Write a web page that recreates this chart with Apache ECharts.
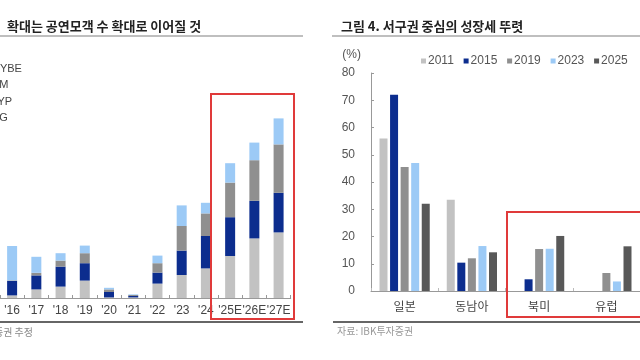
<!DOCTYPE html>
<html><head><meta charset="utf-8">
<script src="https://cdn.jsdelivr.net/npm/echarts@6/dist/echarts.min.js"></script>
<style>html,body{margin:0;padding:0;background:#fff;}#c{width:640px;height:360px;}</style>
</head><body><div id="c"></div>
<script>
// Left chart: stacked concert attendance (units arbitrary, cut-off axis)
const leftYears = ["'16","'17","'18","'19","'20","'21","'22","'23","'24","'25E","'26E","'27E"];
const hybe = [13, 43, 57, 87, 3, 3, 72, 115, 148, 210, 298, 328];
const sm   = [72, 70, 100, 87, 27, 7, 55, 122, 162, 194, 188, 198];
const jyp  = [3, 13, 30, 50, 13, 5, 47, 123, 113, 173, 203, 242];
const yg   = [172, 80, 37, 38, 8, 3, 38, 103, 53, 97, 88, 130];

// Right chart: regional share (%)
const regions = ['일본', '동남아', '북미', '유럽'];
const y2011 = [56, 33.5, 0, 0];
const y2015 = [72, 10.4, 4.3, 0];
const y2019 = [45.5, 12, 15.4, 6.6];
const y2023 = [47, 16.5, 15.5, 3.5];
const y2025 = [32, 14.2, 20.2, 16.4];
const rightTicks = [0, 10, 20, 30, 40, 50, 60, 70, 80];

const FONT = 'Liberation Sans, Arial, Noto Sans CJK KR, sans-serif';
const KFONT = 'Noto Sans CJK KR, Liberation Sans, sans-serif';
const cLG = '#c2c2c2', cNavy = '#0c2d8e', cGray = '#8f8f8f', cLB = '#9ccaf6', cDark = '#585858';

const chart = echarts.init(document.getElementById('c'), null, {renderer: 'canvas'});

function leftBar(name, data, color) {
  return {name, type: 'bar', stack: 'L', xAxisIndex: 0, yAxisIndex: 0, data, barWidth: 10,
    itemStyle: {color}, emphasis: {disabled: true}};
}
function rightBar(name, data, color) {
  return {name, type: 'bar', xAxisIndex: 1, yAxisIndex: 1, data, barWidth: 8, barGap: '32%',
    itemStyle: {color}, emphasis: {disabled: true}};
}

chart.setOption({
  backgroundColor: '#fff',
  animation: false,
  title: [
    {text: '확대는 공연모객 수 확대로 이어질 것', left: 2, top: 15,
     textStyle: {fontFamily: KFONT, fontSize: 13, fontWeight: 'bold', color: '#222'}},
    {text: '그림 4. 서구권 중심의 성장세 뚜렷', left: 336, top: 15,
     textStyle: {fontFamily: KFONT, fontSize: 13, fontWeight: 'bold', color: '#222'}}
  ],
  legend: [
    {data: ['HYBE', 'SM', 'JYP', 'YG'], orient: 'vertical', left: -26, top: 58,
     itemWidth: 8, itemHeight: 8, itemGap: 5.5, icon: 'rect',
     textStyle: {fontFamily: FONT, fontSize: 11, color: '#444'}},
    {data: ['2011', '2015', '2019', '2023', '2025'], orient: 'horizontal', left: 416, top: 50,
     itemWidth: 5, itemHeight: 5, itemGap: 9.8, icon: 'rect',
     textStyle: {fontFamily: FONT, fontSize: 12, color: '#555', padding: [0, 0, 0, -3]}}
  ],
  grid: [
    {left: -5, width: 295.7, top: 58, bottom: 62, containLabel: false},
    {left: 371, right: -4, top: 73, bottom: 69, containLabel: false}
  ],
  xAxis: [
    {type: 'category', gridIndex: 0, data: leftYears,
     axisLine: {lineStyle: {color: '#999', width: 1}},
     axisTick: {show: true, inside: true, length: 3, lineStyle: {color: '#999'}},
     axisLabel: {interval: 0, margin: 7, fontFamily: FONT, fontSize: 12, color: '#444'}},
    {type: 'category', gridIndex: 1, data: regions,
     axisLine: {lineStyle: {color: '#999', width: 1}},
     axisTick: {show: true, inside: true, length: 3, lineStyle: {color: '#bbb'}},
     axisLabel: {interval: 0, margin: 9, fontFamily: KFONT, fontSize: 12, color: '#444'}}
  ],
  yAxis: [
    {type: 'value', gridIndex: 0, min: 0, max: 1200, show: false, splitLine: {show: false}},
    {type: 'value', gridIndex: 1, min: rightTicks[0], max: rightTicks[rightTicks.length - 1], interval: 10,
     name: '(%)', nameLocation: 'end', nameGap: 18,
     nameTextStyle: {fontFamily: FONT, fontSize: 12, color: '#555', align: 'right', verticalAlign: 'middle', padding: [0, 10, 0, 0]},
     axisLine: {show: true, lineStyle: {color: '#999'}},
     axisTick: {show: true, inside: true, length: 3, lineStyle: {color: '#999'}},
     axisLabel: {margin: 16, fontFamily: FONT, fontSize: 12, color: '#555'},
     splitLine: {show: false}}
  ],
  series: [
    leftBar('HYBE', hybe, cLG),
    leftBar('SM', sm, cNavy),
    leftBar('JYP', jyp, cGray),
    leftBar('YG', yg, cLB),
    rightBar('2011', y2011, cLG),
    rightBar('2015', y2015, cNavy),
    rightBar('2019', y2019, cGray),
    rightBar('2023', y2023, cLB),
    rightBar('2025', y2025, cDark)
  ],
  graphic: [
    {type: 'line', shape: {x1: 0, y1: 36, x2: 303, y2: 36}, style: {stroke: '#aaa', lineWidth: 1.5}},
    {type: 'line', shape: {x1: 332, y1: 36, x2: 640, y2: 36}, style: {stroke: '#aaa', lineWidth: 1.5}},
    {type: 'line', shape: {x1: 0, y1: 322, x2: 303, y2: 322}, style: {stroke: '#666', lineWidth: 2}},
    {type: 'line', shape: {x1: 333, y1: 322, x2: 640, y2: 322}, style: {stroke: '#666', lineWidth: 2}},
    {type: 'rect', shape: {x: 211, y: 94, width: 83, height: 225}, style: {fill: 'none', stroke: '#e03a3a', lineWidth: 2}, z: 10},
    {type: 'rect', shape: {x: 507, y: 212, width: 150, height: 105}, style: {fill: 'none', stroke: '#e03a3a', lineWidth: 2}, z: 10},
    {type: 'text', style: {text: '자료: IBK투자증권 추정', x: 33, y: 332, textAlign: 'right', textVerticalAlign: 'middle',
      font: '10px ' + KFONT, fill: '#888'}},
    {type: 'text', style: {text: '자료: IBK투자증권', x: 337, y: 331, textAlign: 'left', textVerticalAlign: 'middle',
      font: '10px ' + KFONT, fill: '#999'}}
  ]
});
</script></body></html>
